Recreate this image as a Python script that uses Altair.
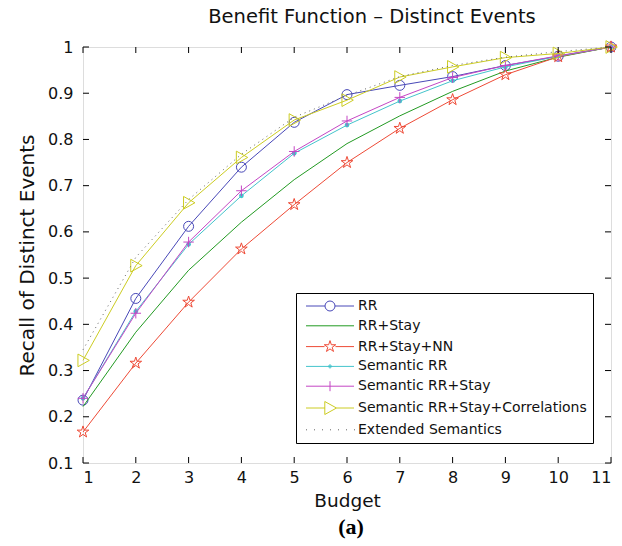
import altair as alt
import pandas as pd

# ---- data -------------------------------------------------------------
budget = [1, 2, 3, 4, 5, 6, 7, 8, 9, 10, 11]

rr = [0.236, 0.456, 0.612, 0.740, 0.837, 0.897, 0.917, 0.936, 0.960, 0.980, 1.0]
rr_stay = [0.222, 0.383, 0.517, 0.621, 0.713, 0.791, 0.851, 0.904, 0.948, 0.978, 1.0]
rr_stay_nn = [0.167, 0.316, 0.448, 0.563, 0.659, 0.750, 0.824, 0.886, 0.940, 0.979, 1.0]
sem_rr = [0.240, 0.428, 0.573, 0.678, 0.770, 0.831, 0.883, 0.927, 0.957, 0.980, 1.0]
sem_rr_stay = [0.240, 0.424, 0.578, 0.689, 0.774, 0.840, 0.891, 0.934, 0.960, 0.981, 1.0]
sem_corr = [0.322, 0.527, 0.663, 0.761, 0.842, 0.885, 0.935, 0.957, 0.977, 0.986, 1.0]
extended = [0.345, 0.545, 0.670, 0.768, 0.848, 0.895, 0.936, 0.960, 0.978, 0.990, 1.0]

series_names = [
    "RR",
    "RR+Stay",
    "RR+Stay+NN",
    "Semantic RR",
    "Semantic RR+Stay",
    "Semantic RR+Stay+Correlations",
    "Extended Semantics",
]
series_values = [rr, rr_stay, rr_stay_nn, sem_rr, sem_rr_stay, sem_corr, extended]

x_ticks = [1, 2, 3, 4, 5, 6, 7, 8, 9, 10, 11]
y_ticks = [0.1, 0.2, 0.3, 0.4, 0.5, 0.6, 0.7, 0.8, 0.9, 1.0]

title_text = "Benefit Function \u2013 Distinct Events"
x_title = "Budget"
y_title = "Recall of Distinct Events"
caption = ["(a)"]

# ---- styling ----------------------------------------------------------
FONT = "DejaVu Sans"
W, H = 528, 416

colors = ["#4848b8", "#229a22", "#ee4a36", "#44c4cc", "#c446c4", "#cccc22", "#666666"]

# marker glyphs (unit square paths)
CIRCLE = "M-1,0A1,1 0 1,0 1,0A1,1 0 1,0 -1,0Z"
STAR = ("M0,-1L0.225,-0.309L0.951,-0.309L0.363,0.118L0.588,0.809L0,0.382"
        "L-0.588,0.809L-0.363,0.118L-0.951,-0.309L-0.225,-0.309Z")
PLUS = "M-1,0L1,0M0,-1L0,1"
TRI = "M-0.8,-1L1,0L-0.8,1Z"

# (path, size, filled) for the markers drawn on each series; None = line only
markers = [
    (CIRCLE, 100, False),
    None,
    (STAR, 150, False),
    ("circle", 22, True),
    (PLUS, 110, False),
    (TRI, 160, False),
    None,
]
dashes = [None, None, None, None, None, None, [1, 4]]


def scaled(path, k):
    """Scale the numbers of a simple M/L/A path by factor k."""
    out, num = [], ""
    for ch in path + " ":
        if ch.isdigit() or ch in ".-" and not (ch == "-" and num):
            num += ch
        else:
            if num:
                out.append(f"{float(num) * k:g}")
                num = ""
            if ch != " ":
                out.append(ch)
    return "".join(out)


# legend glyphs: a short line with the marker at its centre
L = 4.8
legend_paths = [
    f"M{-L},0L-1,0M1,0L{L},0" + CIRCLE,
    f"M{-L},0L{L},0",
    f"M{-L},0L-1.1,0M1.1,0L{L},0" + scaled(STAR, 1.2),
    f"M{-L},0L{L},0M-0.15,0A0.15,0.15 0 1,0 0.15,0A0.15,0.15 0 1,0 -0.15,0"
    "M-0.3,0A0.3,0.3 0 1,0 0.3,0A0.3,0.3 0 1,0 -0.3,0",
    f"M{-L},0L{L},0M0,-1L0,1",
    f"M{-L},0L-1,0M1.3,0L{L},0" + scaled(TRI, 1.3),
    "".join(f"M{-L + 1.6 * i:.2f},0L{-L + 1.6 * i + 0.2:.2f},0" for i in range(7)),
]

# ---- tables -----------------------------------------------------------
rows = []
for name, vals in zip(series_names, series_values):
    for b, v in zip(budget, vals):
        rows.append({"budget": b, "recall": v, "series": name})
df = pd.DataFrame(rows)
xt_df = pd.DataFrame({"tick": x_ticks})
yt_df = pd.DataFrame({"tick": y_ticks})

xs = alt.Scale(domain=[1, 11], nice=False, zero=False)
ys = alt.Scale(domain=[0.1, 1.0], nice=False, zero=False)
x_axis = alt.Axis(
    values=x_ticks, format="d", title=x_title, grid=False, ticks=False, domain=False,
    labelFont=FONT, labelFontSize=16, labelColor="#111", labelPadding=6,
    titleFont=FONT, titleFontSize=18.5, titleFontWeight="normal", titleColor="#111",
    titlePadding=6,
)
y_axis = alt.Axis(
    values=y_ticks, format="~g", title=y_title, grid=False, ticks=False, domain=False,
    labelFont=FONT, labelFontSize=16, labelColor="#111", labelPadding=10,
    titleFont=FONT, titleFontSize=20, titleFontWeight="normal", titleColor="#111",
    titlePadding=10,
)


def X(field):
    return alt.X(f"{field}:Q", scale=xs, axis=x_axis)


def Y(field):
    return alt.Y(f"{field}:Q", scale=ys, axis=y_axis)


layers = []

# series lines and markers
for name, col, mk, dash in zip(series_names, colors, markers, dashes):
    base = alt.Chart(df).transform_filter(alt.datum.series == name)
    line_kw = dict(color=col, strokeWidth=1)
    if dash:
        line_kw["strokeDash"] = dash
    layers.append(base.mark_line(**line_kw).encode(x=X("budget"), y=Y("recall")))
    if mk is not None:
        shape, size, filled = mk
        layers.append(
            base.mark_point(
                shape=shape, size=size, filled=filled, color=col,
                strokeWidth=1, opacity=1,
            ).encode(x=X("budget"), y=Y("recall"))
        )

# inward tick marks on all four sides
tick_style = dict(color="black", strokeWidth=1)
layers.append(alt.Chart(xt_df).mark_rule(**tick_style).encode(
    x=X("tick"), y=alt.value(H), y2=alt.value(H - 6)))
layers.append(alt.Chart(xt_df).mark_rule(**tick_style).encode(
    x=X("tick"), y=alt.value(0), y2=alt.value(6)))
layers.append(alt.Chart(yt_df).mark_rule(**tick_style).encode(
    y=Y("tick"), x=alt.value(0), x2=alt.value(6)))
layers.append(alt.Chart(yt_df).mark_rule(**tick_style).encode(
    y=Y("tick"), x=alt.value(W), x2=alt.value(W - 6)))

# legend (drawn from the colour / shape scales only)
legend = alt.Legend(
    title=None, orient="none", legendX=213, legendY=246,
    fillColor="white", strokeColor="black", padding=6,
    labelFont=FONT, labelFontSize=14, labelColor="#111", labelLimit=400,
    symbolSize=100, symbolStrokeWidth=1, symbolOffset=21, labelOffset=21,
    rowPadding=5.8, symbolFillColor="transparent",
)
layers.append(
    alt.Chart(df).transform_filter("false").mark_point(filled=False, opacity=1).encode(
        x=X("budget"), y=Y("recall"),
        color=alt.Color("series:N", scale=alt.Scale(domain=series_names, range=colors),
                        legend=legend),
        shape=alt.Shape("series:N", scale=alt.Scale(domain=series_names, range=legend_paths),
                        legend=legend),
    )
)

# panel caption
layers.append(
    alt.Chart(pd.DataFrame({"caption": caption})).mark_text(
        font="Liberation Serif", fontWeight="bold", fontSize=22, color="black",
        baseline="middle", align="center",
    ).encode(text="caption:N", x=alt.value(268), y=alt.value(480))
)

chart = alt.layer(*layers).properties(
    width=W, height=H,
    autosize="none",
    padding={"left": 83, "top": 47, "right": 11, "bottom": 83},
    title=alt.Title(title_text, font=FONT, fontSize=19.5, fontWeight="normal",
                    color="#111", anchor="middle", dx=25, offset=11),
).configure_view(stroke="black", strokeWidth=1.5).configure(background="white")

chart.save("out.html", embed_options={"renderer": "svg", "actions": False})
